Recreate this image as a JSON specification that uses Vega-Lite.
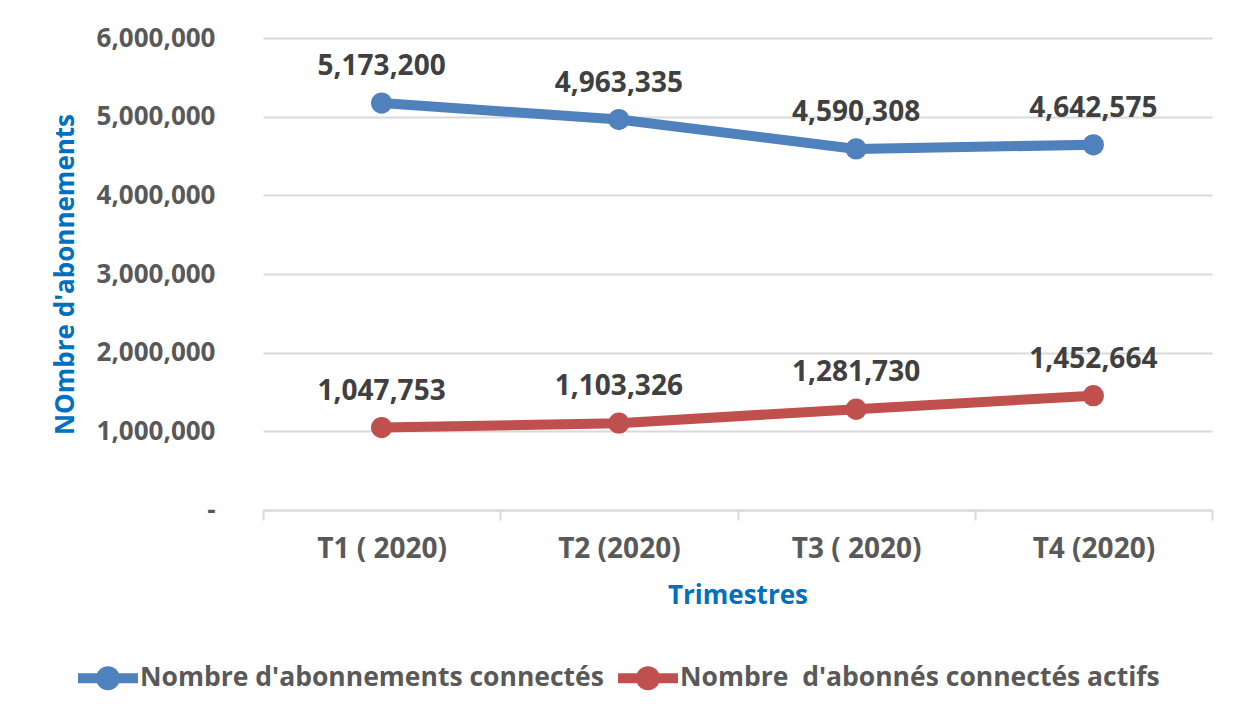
{
  "$schema": "https://vega.github.io/schema/vega-lite/v6.json",
  "width": 949,
  "height": 472,
  "autosize": "none",
  "padding": {"left": 263, "top": 38, "right": 28, "bottom": 207},
  "background": "white",
  "config": {"view": {"stroke": null}, "font": "Open Sans"},
  "data": {
    "values": [
      {"trimestre": "T1 ( 2020)", "serie": "Nombre d'abonnements connectés", "valeur": 5173200},
      {"trimestre": "T2 (2020)", "serie": "Nombre d'abonnements connectés", "valeur": 4963335},
      {"trimestre": "T3 ( 2020)", "serie": "Nombre d'abonnements connectés", "valeur": 4590308},
      {"trimestre": "T4 (2020)", "serie": "Nombre d'abonnements connectés", "valeur": 4642575},
      {"trimestre": "T1 ( 2020)", "serie": "Nombre  d'abonnés connectés actifs", "valeur": 1047753},
      {"trimestre": "T2 (2020)", "serie": "Nombre  d'abonnés connectés actifs", "valeur": 1103326},
      {"trimestre": "T3 ( 2020)", "serie": "Nombre  d'abonnés connectés actifs", "valeur": 1281730},
      {"trimestre": "T4 (2020)", "serie": "Nombre  d'abonnés connectés actifs", "valeur": 1452664}
    ]
  },
  "encoding": {
    "x": {
      "field": "trimestre", "type": "nominal", "sort": null,
      "scale": {"type": "band", "paddingInner": 0, "paddingOuter": 0},
      "axis": {
        "tickBand": "extent", "ticks": true, "tickSize": 10, "tickColor": "#d9d9d9", "tickWidth": 2,
        "domainColor": "#d9d9d9", "domainWidth": 2, "grid": false,
        "labelFontSize": 28, "labelFontWeight": "bold", "labelColor": "#595959", "labelPadding": 15, "labelAngle": 0,
        "title": "Trimestres", "titleColor": "#0070C0", "titleFontSize": 26, "titleFontWeight": "bold", "titlePadding": 19
      }
    },
    "y": {
      "field": "valeur", "type": "quantitative",
      "scale": {"domain": [0, 6000000]},
      "axis": {
        "values": [0, 1000000, 2000000, 3000000, 4000000, 5000000, 6000000],
        "grid": true, "gridColor": "#d9d9d9", "gridWidth": 2, "domain": false, "ticks": false,
        "labelExpr": "datum.value == 0 ? '-' : format(datum.value, ',')",
        "labelPadding": 48, "labelFontSize": 26, "labelFontWeight": "bold", "labelColor": "#595959",
        "title": "NOmbre d'abonnements", "titleColor": "#0070C0", "titleFontSize": 26, "titleFontWeight": "bold", "titlePadding": 18
      }
    },
    "color": {
      "field": "serie", "type": "nominal",
      "scale": {"domain": ["Nombre d'abonnements connectés", "Nombre  d'abonnés connectés actifs"], "range": ["#4F81BD", "#C0504D"]},
      "legend": {
        "orient": "none", "legendX": -185, "legendY": 610, "direction": "horizontal", "title": null,
        "symbolType": "M-1,-0.17 L1,-0.17 L1,0.17 L-1,0.17 Z M-0.4,0 A0.4,0.4 0 1,1 0.4,0 A0.4,0.4 0 1,1 -0.4,0 Z",
        "symbolSize": 3600, "symbolStrokeWidth": 0,
        "labelFontSize": 26.5, "labelFontWeight": "bold", "labelColor": "#595959", "labelOffset": 2, "columnPadding": 14,
        "labelExpr": "replace(datum.label, '  ', ' \u00a0')",
        "labelLimit": 0,
        "encode": {"symbols": {"update": {"fill": {"scale": "color", "field": "value"}, "opacity": {"value": 1}}}}
      }
    }
  },
  "layer": [
    {"mark": {"type": "line", "strokeWidth": 10, "strokeCap": "round"}},
    {"mark": {"type": "point", "filled": true, "size": 450, "opacity": 1}},
    {
      "mark": {"type": "text", "dy": -36, "fontSize": 28, "fontWeight": "bold"},
      "encoding": {"text": {"field": "valeur", "format": ","}, "color": {"value": "#404040"}}
    }
  ]
}
